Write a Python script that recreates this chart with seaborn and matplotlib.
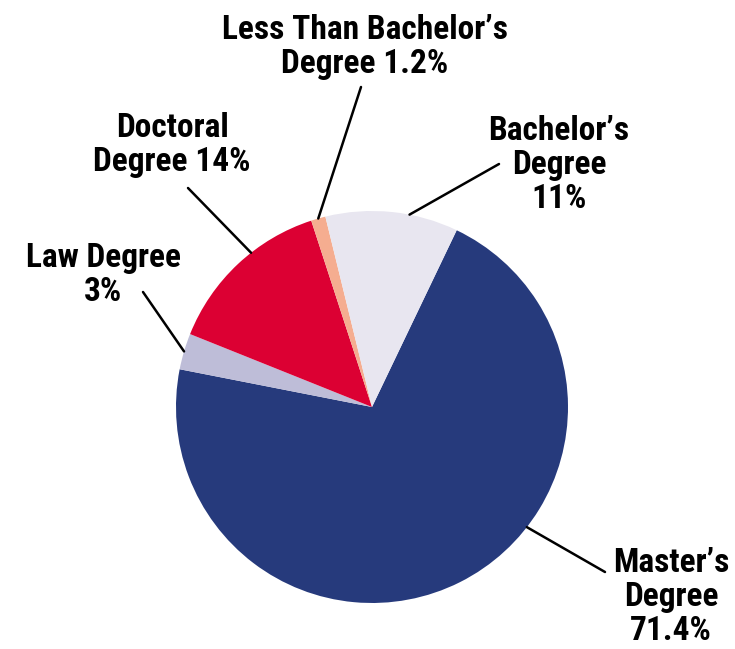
import matplotlib
matplotlib.use("Agg")
import matplotlib.pyplot as plt
from matplotlib import font_manager
import numpy as np
import seaborn as sns

# Degree shares, drawn clockwise starting at the Master's/Bachelor's boundary
categories = ["Master’s", "Law", "Doctoral", "Less Than Bachelor’s", "Bachelor’s"]
shares = [71.4, 3, 14, 1.2, 11]
label_templates = [
    "Master’s\nDegree\n{}%",
    "Law Degree\n{}%",
    "Doctoral\nDegree {}%",
    "Less Than Bachelor’s\nDegree {}%",
    "Bachelor’s\nDegree\n{}%",
]
slice_colors = ["#263a7c", "#bebdd8", "#dc0033", "#f5ad90", "#e8e6f0"]

sns.set_theme(style="white")
installed = {f.name for f in font_manager.fontManager.ttflist}
families = [f for f in ["Liberation Sans Narrow", "Roboto Condensed", "DejaVu Sans"] if f in installed] or ["DejaVu Sans"]
plt.rcParams["font.family"] = families

W, H = 735, 649
fig = plt.figure(figsize=(W / 100, H / 100), dpi=100)
fig.patch.set_facecolor("white")

# pie centre (372, 407) px, radius 196 px
cx, cy, r = 372, 407, 196
ax = fig.add_axes([(cx - r) / W, (H - cy - r) / H, 2 * r / W, 2 * r / H])
wedges, _ = ax.pie(
    shares,
    colors=sns.color_palette(slice_colors),
    startangle=64.4,
    counterclock=False,
    radius=1,
    wedgeprops=dict(linewidth=0),
)
ax.set_xlim(-1, 1)
ax.set_ylim(-1, 1)
ax.set_aspect("equal")
ax.axis("off")

# label layout: text centre x / top y (px), leader start (px), position of leader tip along wedge
layout = [
    dict(x=671, y=547, start=(605, 572), frac=0.60),
    dict(x=103, y=242, start=(143, 292), frac=0.50),
    dict(x=172, y=112, start=(188, 188), frac=0.40),
    dict(x=365, y=14, start=(361, 87), frac=0.50),
    dict(x=559, y=115, start=(499, 164), frac=0.37),
]

for wedge, value, tmpl, lay in zip(wedges, shares, label_templates, layout):
    ang = np.deg2rad(wedge.theta1 + lay["frac"] * (wedge.theta2 - wedge.theta1))
    tip = (np.cos(ang), np.sin(ang))
    sx, sy = lay["start"]
    ax.annotate(
        "", xy=tip, xycoords="data",
        xytext=(sx / W, 1 - sy / H), textcoords="figure fraction",
        arrowprops=dict(arrowstyle="-", color="black", lw=1.8, shrinkA=0, shrinkB=0),
        annotation_clip=False,
    )
    fig.text(
        lay["x"] / W, 1 - lay["y"] / H, tmpl.format(f"{value:g}"),
        ha="center", va="top", fontsize=24, fontweight="bold",
        color="black", linespacing=1.07, multialignment="center",
    )

fig.savefig("out.png", dpi=100, facecolor="white")
